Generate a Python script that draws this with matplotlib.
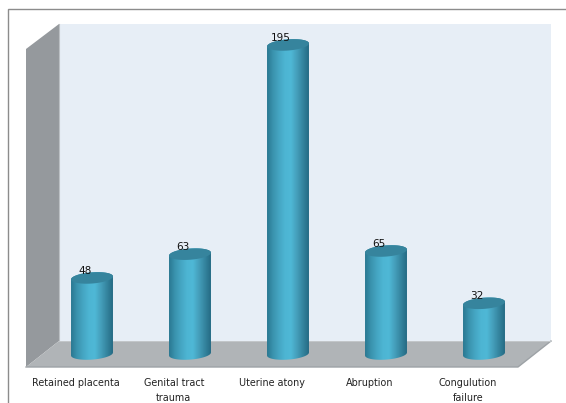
"""Five-category cylinder chart on a faux 3D box."""
import matplotlib
matplotlib.use("Agg")
import matplotlib.pyplot as plt
import numpy as np
from matplotlib.colors import LinearSegmentedColormap
from matplotlib.patches import PathPatch, Polygon, Rectangle
from matplotlib.path import Path

categories = ["Retained placenta", "Genital tract\ntrauma", "Uterine atony", "Abruption", "Congulution\nfailure"]
values = [48, 63, 195, 65, 32]

W, H = 566, 403
BASE_PX = 354        # pixel row of value 0
PX_PER_UNIT = 1.585
FIRST_PX = 92
STEP_PX = 98
HALF_W = 0.214       # cylinder half width, in category units
CAP_B = 5.6 / PX_PER_UNIT   # cap semi-minor axis, in value units
CAP_TILT = 1.5 / PX_PER_UNIT
LABEL_SHIFT = -0.165  # axis labels sit left of their cylinders

shade = LinearSegmentedColormap.from_list(
    "cyl", ["#2a7892", "#3a93ae", "#45a6c3", "#4db5d3", "#4fb8d6", "#459fbb", "#35859f", "#256b84"]
)

fig = plt.figure(figsize=(W / 100, H / 100), dpi=100, facecolor="white")

# box walls and outer border live in a pixel-space axes underneath
box = fig.add_axes([0, 0, 1, 1])
box.set_xlim(0, W)
box.set_ylim(H, 0)
box.axis("off")
box.add_patch(Rectangle((7.5, 8.5), W, H, fc="white", ec="#8c8c8c", lw=1.0))
box.add_patch(Polygon([(59, 24), (551, 24), (551, 341), (59, 341)], fc="#e7eef6", ec="none"))
box.add_patch(Polygon([(26, 49), (59, 24), (59, 341), (26, 367)], fc="#95999d", ec="none"))
box.plot([59, 59], [24, 341], color="#bcc0c4", lw=0.8)
box.add_patch(Polygon([(26, 367), (518, 367), (551, 341), (59, 341)], fc="#b0b4b7", ec="none"))
box.plot([26, 518, 551], [367, 367, 341], color="#9da2a6", lw=1.0)
box.plot([59, 551], [341, 341], color="#c3c7ca", lw=0.7)

# cylinders are drawn in category/value coordinates on top
ax = fig.add_axes([0, 0, 1, 1])
ax.patch.set_alpha(0)
ax.axis("off")
xlim = (-FIRST_PX / STEP_PX, (W - FIRST_PX) / STEP_PX)
ylim = ((BASE_PX - H) / PX_PER_UNIT, BASE_PX / PX_PER_UNIT)
t = np.linspace(0, 2 * np.pi, 121)
grad = np.linspace(0, 1, 128).reshape(1, -1)


def ring(x, v, ts):
    return np.column_stack([x + HALF_W * np.cos(ts), v + CAP_B * np.sin(ts) + CAP_TILT * np.cos(ts)])


for i, v in enumerate(values):
    lower = ring(i, 0, np.linspace(np.pi, 2 * np.pi, 60))
    upper = ring(i, v, np.linspace(0, np.pi, 60))
    body = PathPatch(Path(np.vstack([lower, upper, lower[:1]])), fc="none", ec="none", transform=ax.transData)
    ax.add_patch(body)
    img = ax.imshow(grad, cmap=shade, aspect="auto", extent=(i - HALF_W, i + HALF_W, -10, v + 10), zorder=2)
    img.set_clip_path(body)
    ax.add_patch(Polygon(ring(i, v, t), fc="#36849d", ec="none", zorder=3))
    ax.text(i - 0.07, v + 4.6, str(v), ha="center", va="center", fontsize=7.6, color="#111111", zorder=4)

for i, label in enumerate(categories):
    ax.text(i + LABEL_SHIFT, -15.0, label, ha="center", va="top", fontsize=6.95,
            color="#222222", linespacing=1.7)

ax.set_xlim(xlim)
ax.set_ylim(ylim)

fig.savefig("out.png", dpi=100)
